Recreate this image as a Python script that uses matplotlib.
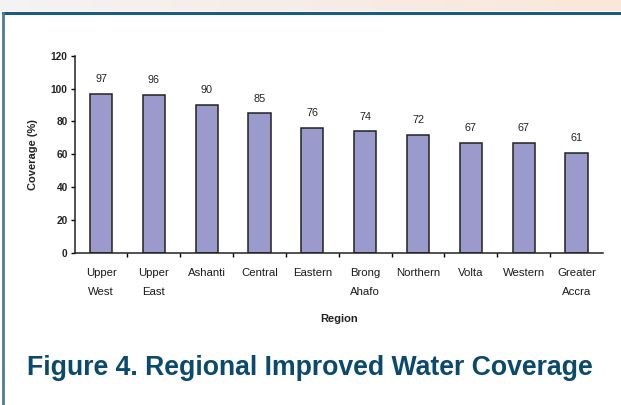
import numpy as np
import matplotlib
matplotlib.use("Agg")
import matplotlib.pyplot as plt
from matplotlib.lines import Line2D
from matplotlib.colors import LinearSegmentedColormap

regions = ["Upper\nWest", "Upper\nEast", "Ashanti", "Central", "Eastern",
           "Brong\nAhafo", "Northern", "Volta", "Western", "Greater\nAccra"]
coverage = [97, 96, 90, 85, 76, 74, 72, 67, 67, 61]
yticks = [0, 20, 40, 60, 80, 100, 120]

plt.rcParams["font.family"] = ["Liberation Sans", "DejaVu Sans"]

W, H = 621, 405
fig = plt.figure(figsize=(W / 100, H / 100), dpi=100)
fig.patch.set_facecolor("white")

# header band with soft gradient
band = fig.add_axes([0, 1 - 11 / H, 1, 11 / H])
grad = LinearSegmentedColormap.from_list("band", ["#f4f3f3", "#f7ece8", "#fbe7d8"])
band.imshow(np.linspace(0, 1, 256)[None, :], aspect="auto", cmap=grad,
            extent=[0, 1, 0, 1])
band.set_axis_off()

# panel frame lines
fig.add_artist(Line2D([2.5 / W, 1], [1 - 12.5 / H, 1 - 12.5 / H],
                      transform=fig.transFigure, color="#1d5a80", lw=2.2))
fig.add_artist(Line2D([3 / W, 3 / W], [0, 1 - 12.5 / H],
                      transform=fig.transFigure, color="#4f7b97", lw=2.0))

ax = fig.add_axes([74.6 / W, 1 - 253 / H, (603 - 74.6) / W, (253 - 55.7) / H])
x = np.arange(len(regions))
bars = ax.bar(x, coverage, width=0.42, color="#9a9acc", edgecolor="#222222",
              linewidth=1.1, zorder=2)
for xi, v in zip(x, coverage):
    ax.annotate(str(v), (xi, v), xytext=(0, 7), textcoords="offset points",
                ha="center", va="bottom", fontsize=7.8, color="#222222")

ax.set_xlim(-0.5, len(regions) - 0.5)
ax.set_ylim(0, 120)
ax.set_yticks(yticks)
ax.set_yticklabels([str(t) for t in yticks], fontsize=7.3, fontweight="bold",
                   color="#222222")
ax.set_xticks(x)
ax.set_xticklabels(regions, fontsize=8.2, linespacing=2.2, color="#1a1a1a")
ax.set_xticks(np.arange(0.5, len(regions) - 0.5, 1), minor=True)
ax.tick_params(axis="x", which="major", length=0, pad=10.5)
ax.tick_params(axis="x", which="minor", length=3, width=1, direction="out")
ax.tick_params(axis="y", length=3, width=1, pad=2)
for s in ["top", "right"]:
    ax.spines[s].set_visible(False)
for s in ["left", "bottom"]:
    ax.spines[s].set_linewidth(1.1)
    ax.spines[s].set_color("#222222")

ax.set_ylabel("Coverage (%)", fontsize=8, fontweight="bold", labelpad=9,
              color="#222222")
ax.set_xlabel("Region", fontsize=8, fontweight="bold", labelpad=12,
              color="#222222")

fig.text(27 / W, 1 - 368 / H, "Figure 4. Regional Improved Water Coverage",
         fontsize=19.2, fontweight="bold", color="#0b4a6c", ha="left", va="center")

fig.savefig("out.png", dpi=100)
